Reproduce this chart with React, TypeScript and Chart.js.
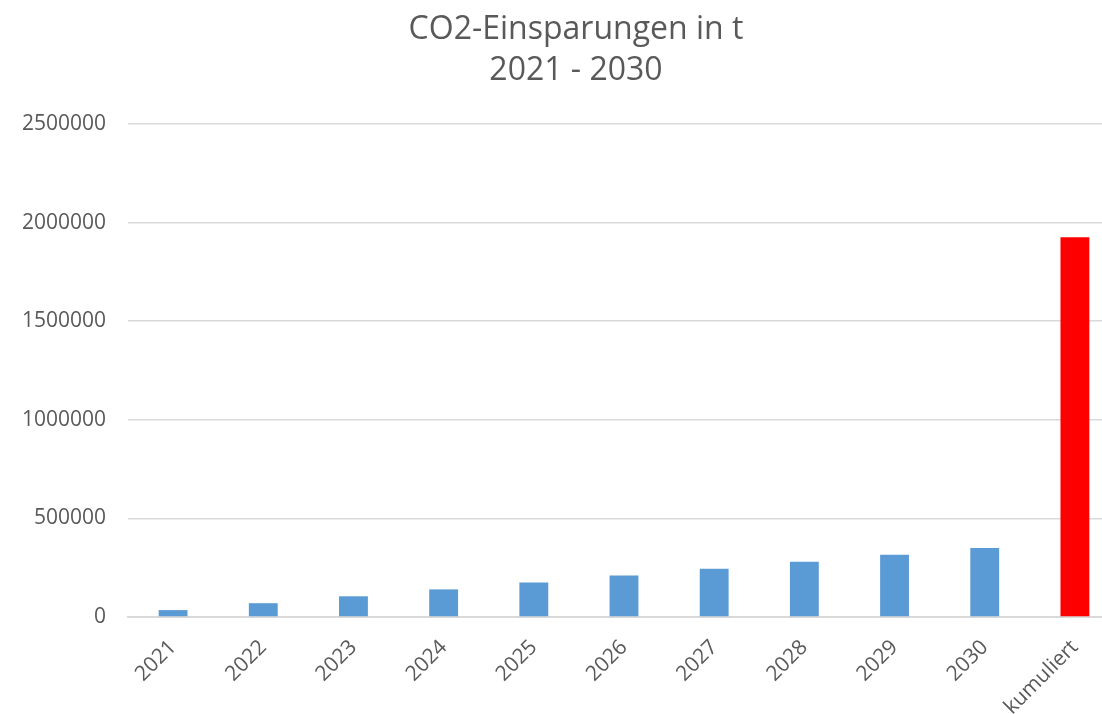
import React, { useEffect, useRef } from "react";
import { Chart, registerables } from "chart.js";

Chart.register(...registerables);

const categories = ["2021", "2022", "2023", "2024", "2025", "2026", "2027", "2028", "2029", "2030", "kumuliert"];
const savings = [35000, 70000, 105000, 140000, 175000, 210000, 245000, 280000, 315000, 350000, 1925000];
const barColors = ["#5B9BD5", "#5B9BD5", "#5B9BD5", "#5B9BD5", "#5B9BD5", "#5B9BD5", "#5B9BD5", "#5B9BD5", "#5B9BD5", "#5B9BD5", "#FF0000"];
const titleLines = ["CO2-Einsparungen in t", "2021 - 2030"];
const yMin = 0;
const yMax = 2500000;
const yStep = 500000;

export default function App() {
  const ref = useRef<HTMLCanvasElement | null>(null);
  useEffect(() => {
    document.body.style.margin = "0";
    document.body.style.overflow = "hidden";
    const ctx = ref.current!;
    const chart = new Chart(ctx, {
      type: "bar",
      data: {
        labels: categories,
        datasets: [
          {
            data: savings,
            backgroundColor: barColors,
            barPercentage: 0.32,
            categoryPercentage: 1,
          },
        ],
      },
      options: {
        responsive: false,
        animation: false,
        layout: { padding: { left: 0, right: 0, top: 9, bottom: 0 } },
        plugins: {
          legend: { display: false },
          tooltip: { enabled: false },
          title: {
            display: true,
            text: titleLines,
            color: "#595959",
            font: { family: "'Open Sans'", size: 32, weight: "normal", lineHeight: 1.28 },
            padding: { top: 0, bottom: 33 },
          },
        },
        scales: {
          x: {
            grid: { display: false, drawTicks: false },
            border: { color: "#D9D9D9", width: 2 },
            ticks: {
              color: "#595959",
              font: { family: "'Open Sans'", size: 21 },
              maxRotation: 45,
              minRotation: 45,
              padding: 18,
            },
            afterFit: (scale: any) => {
              scale.paddingLeft = 0;
              scale.paddingRight = 32;
              scale.height = 97;
            },
          },
          y: {
            min: yMin,
            max: yMax,
            grid: { color: "#D9D9D9", lineWidth: 1.5, drawTicks: false },
            border: { display: false },
            ticks: {
              stepSize: yStep,
              color: "#595959",
              font: { family: "'Open Sans'", size: 21 },
              padding: 22,
              callback: (v: any) => String(v),
            },
            afterFit: (scale: any) => {
              scale.width = 128;
              scale.paddingTop = 0;
              scale.paddingBottom = 0;
            },
          },
        },
      },
    });
    return () => chart.destroy();
  }, []);
  return (
    <div style={{ position: "fixed", left: 0, top: 0, width: 1102, height: 714, overflow: "hidden", background: "#fff" }}>
      <canvas ref={ref} width={1152} height={714} style={{ display: "block" }} />
    </div>
  );
}
